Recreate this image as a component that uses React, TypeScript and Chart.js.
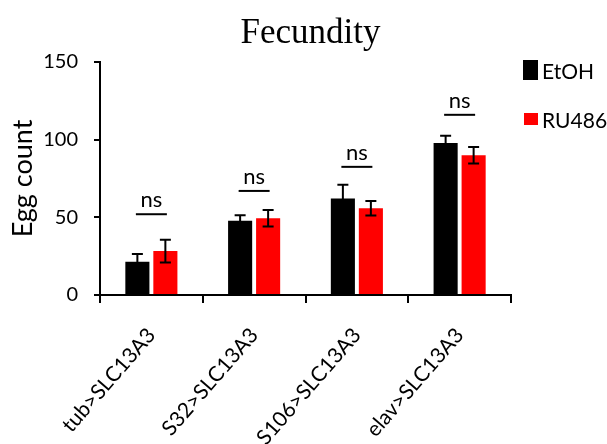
import { useEffect, useRef } from 'react';
import { Chart, registerables } from 'chart.js';

Chart.register(...registerables);

// Genotypes on the x axis
const categories = ['tub>SLC13A3', 'S32>SLC13A3', 'S106>SLC13A3', 'elav>SLC13A3'];

// Mean egg counts and their error (SEM) per treatment
const etohMeans = [21.4, 47.8, 62.2, 97.9];
const etohErrors = [5.0, 3.5, 8.8, 4.7];
const ru486Means = [28.3, 49.4, 55.8, 89.9];
const ru486Errors = [7.3, 5.3, 4.7, 5.3];

// Significance brackets above each genotype pair
const sigLabels = ['ns', 'ns', 'ns', 'ns'];
const sigHeights = [52, 67, 82.5, 116];

// Y axis ticks
const yTicks = [0, 50, 100, 150];

const seriesNames = ['EtOH', 'RU486'];
const seriesColors = ['#000000', '#ff0000'];
const seriesErrors = [etohErrors, ru486Errors];

const SANS = 'Lato, "Open Sans", sans-serif';

const errorBarsPlugin = {
  id: 'errorBars',
  afterDatasetsDraw(chart: any) {
    const { ctx } = chart;
    const y = chart.scales.y;
    chart.data.datasets.forEach((ds: any, i: number) => {
      const meta = chart.getDatasetMeta(i);
      const errs = seriesErrors[i];
      meta.data.forEach((bar: any, j: number) => {
        const v = ds.data[j] as number;
        const e = errs[j];
        const top = y.getPixelForValue(v + e);
        const bot = y.getPixelForValue(v - e);
        const half = 5.5;
        ctx.save();
        ctx.strokeStyle = '#000';
        ctx.lineWidth = 2;
        ctx.beginPath();
        ctx.moveTo(bar.x, top);
        ctx.lineTo(bar.x, bot);
        ctx.moveTo(bar.x - half, top);
        ctx.lineTo(bar.x + half, top);
        ctx.moveTo(bar.x - half, bot);
        ctx.lineTo(bar.x + half, bot);
        ctx.stroke();
        ctx.restore();
      });
    });
  },
};

const significancePlugin = {
  id: 'significance',
  afterDatasetsDraw(chart: any) {
    const { ctx } = chart;
    const x = chart.scales.x;
    const y = chart.scales.y;
    sigHeights.forEach((h, j) => {
      const cx = x.getPixelForValue(j);
      const py = y.getPixelForValue(h);
      ctx.save();
      ctx.strokeStyle = '#000';
      ctx.lineWidth = 2;
      ctx.beginPath();
      ctx.moveTo(cx - 15.5, py);
      ctx.lineTo(cx + 15.5, py);
      ctx.stroke();
      ctx.fillStyle = '#000';
      ctx.font = `22px ${SANS}`;
      ctx.textAlign = 'center';
      ctx.textBaseline = 'alphabetic';
      ctx.fillText(sigLabels[j], cx, py - 7);
      ctx.restore();
    });
  },
};

// Title centred over the plot and a compact legend to the right of it
const headerPlugin = {
  id: 'header',
  afterDraw(chart: any) {
    const { ctx, chartArea } = chart;
    ctx.save();
    ctx.fillStyle = '#000';
    ctx.font = '35px "Liberation Serif", "Times New Roman", serif';
    ctx.textAlign = 'center';
    ctx.textBaseline = 'alphabetic';
    ctx.fillText('Fecundity', 310.5, 43);

    const left = chartArea.right + 12;
    const boxSizes = [
      { w: 15, h: 20, top: 60 },
      { w: 14, h: 12, top: 113 },
    ];
    const baselines = [79, 128];
    ctx.font = `21px ${SANS}`;
    ctx.textAlign = 'left';
    seriesNames.forEach((name, i) => {
      const b = boxSizes[i];
      ctx.fillStyle = seriesColors[i];
      ctx.fillRect(left + (15 - b.w), b.top, b.w, b.h);
      ctx.fillStyle = '#000';
      ctx.fillText(name, left + 19, baselines[i]);
    });
    ctx.restore();
  },
};

export default function App() {
  const canvasRef = useRef<HTMLCanvasElement | null>(null);

  useEffect(() => {
    if (!canvasRef.current) return;
    const chart = new Chart(canvasRef.current, {
      type: 'bar',
      data: {
        labels: categories,
        datasets: [
          {
            label: seriesNames[0],
            data: etohMeans,
            backgroundColor: seriesColors[0],
            borderWidth: 0,
            categoryPercentage: 0.545,
            barPercentage: 0.86,
          },
          {
            label: seriesNames[1],
            data: ru486Means,
            backgroundColor: seriesColors[1],
            borderWidth: 0,
            categoryPercentage: 0.545,
            barPercentage: 0.86,
          },
        ],
      },
      options: {
        responsive: true,
        maintainAspectRatio: false,
        animation: false,
        layout: { padding: { left: 0, right: 96, top: 62, bottom: 0 } },
        plugins: {
          legend: { display: false },
          title: { display: false },
          tooltip: { enabled: false },
        },
        scales: {
          x: {
            afterFit(scale: any) {
              scale.height = 149;
            },
            grid: {
              offset: true,
              drawOnChartArea: false,
              drawTicks: true,
              tickLength: 8,
              color: '#000',
              lineWidth: 2,
            },
            border: { display: true, color: '#000', width: 2 },
            ticks: {
              color: '#000',
              font: { family: SANS, size: 21 },
              minRotation: 49,
              maxRotation: 49,
              autoSkip: false,
              padding: 20,
            },
          },
          y: {
            min: 0,
            max: 150,
            afterFit(scale: any) {
              scale.width = 100;
            },
            afterBuildTicks(scale: any) {
              scale.ticks = yTicks.map((v) => ({ value: v }));
            },
            grid: {
              drawOnChartArea: false,
              drawTicks: true,
              tickLength: 6,
              color: '#000',
              lineWidth: 2,
            },
            border: { display: true, color: '#000', width: 2 },
            ticks: {
              color: '#000',
              font: { family: SANS, size: 20 },
              padding: 16,
            },
            title: {
              display: true,
              text: 'Egg count',
              color: '#000',
              font: { family: SANS, size: 27 },
              padding: { top: 7, bottom: 0 },
            },
          },
        },
      },
      plugins: [errorBarsPlugin, significancePlugin, headerPlugin],
    });
    return () => chart.destroy();
  }, []);

  return (
    <div style={{ position: 'fixed', left: 0, top: 0, width: 607, height: 444, background: '#fff' }}>
      <canvas ref={canvasRef} />
    </div>
  );
}
